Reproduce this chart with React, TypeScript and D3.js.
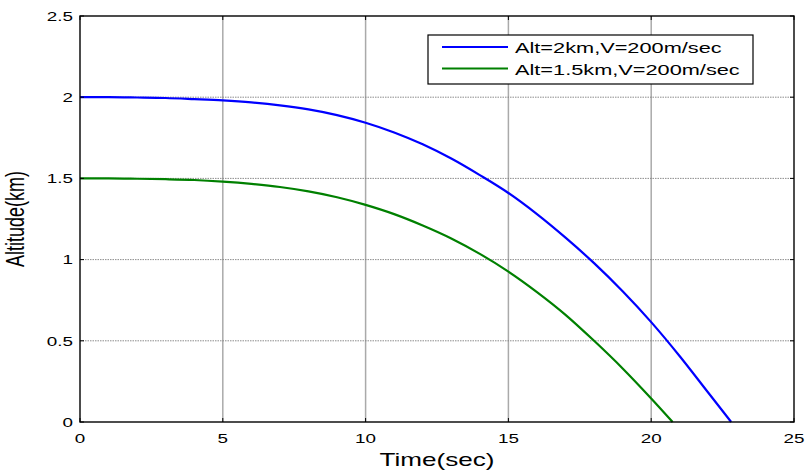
import React from 'react'
import * as d3 from 'd3'

// time axis (sec) and altitude (km)
const blueTime = [0, 1, 2, 3, 4, 5, 6, 7, 8, 9, 10, 11, 12, 13, 14, 15, 16, 17, 18, 19, 20, 21, 22, 22.8]
const blueAlt = [2.0, 2.0, 1.998, 1.995, 1.988, 1.98, 1.968, 1.95, 1.925, 1.89, 1.843, 1.783, 1.71, 1.622, 1.52, 1.41, 1.28, 1.135, 0.978, 0.805, 0.615, 0.405, 0.18, 0.0]

const greenTime = [0, 1, 2, 3, 4, 5, 6, 7, 8, 9, 10, 11, 12, 13, 14, 15, 16, 17, 18, 19, 20, 20.75]
const greenAlt = [1.5, 1.5, 1.498, 1.495, 1.49, 1.48, 1.466, 1.447, 1.42, 1.384, 1.337, 1.28, 1.21, 1.13, 1.035, 0.926, 0.8, 0.66, 0.5, 0.33, 0.145, 0.0]

const seriesNames = ['Alt=2km,V=200m/sec', 'Alt=1.5km,V=200m/sec']
const seriesColors = ['#0000ff', '#008000']

const xTickLabels = ['0', '5', '10', '15', '20', '25']
const yTickLabels = ['0', '0.5', '1', '1.5', '2', '2.5']

export default function App() {
    const width = 805
    const height = 471
    const left = 80, right = 794, top = 16, bottom = 422
    const sx = 1.45 // the picture is stretched sideways
    const font = "Arial, 'Liberation Sans', sans-serif"

    const x = d3.scaleLinear().domain([0, 25]).range([left, right])
    const y = d3.scaleLinear().domain([0, 2.5]).range([bottom, top])

    const line = d3.line<[number, number]>()
        .x(d => x(d[0]))
        .y(d => y(d[1]))
        .curve(d3.curveMonotoneX)

    const blue = blueTime.map((t, i) => [t, blueAlt[i]] as [number, number])
    const green = greenTime.map((t, i) => [t, greenAlt[i]] as [number, number])

    const xTicks = xTickLabels.map(Number)
    const yTicks = yTickLabels.map(Number)

    return (
        <svg width={width} height={height}
            style={{position: 'absolute', left: 0, top: 0, background: '#fff'}}>
            {/* grid */}
            {xTicks.slice(1, -1).map(t => (
                <line key={'gx' + t} x1={x(t)} x2={x(t)} y1={top} y2={bottom}
                    stroke="#aaaaaa" strokeWidth={1.5} />
            ))}
            {yTicks.slice(1, -1).map(t => (
                <line key={'gy' + t} x1={left} x2={right} y1={y(t)} y2={y(t)}
                    stroke="#808080" strokeWidth={0.9} strokeDasharray="1.5,1" />
            ))}

            {/* curves */}
            <path d={line(blue) || ''} fill="none" stroke={seriesColors[0]} strokeWidth={2.2} />
            <path d={line(green) || ''} fill="none" stroke={seriesColors[1]} strokeWidth={2.2} />

            {/* inward ticks */}
            {xTicks.map(t => (
                <g key={'tx' + t}>
                    <line x1={x(t)} x2={x(t)} y1={bottom} y2={bottom - 4} stroke="#000" />
                    <line x1={x(t)} x2={x(t)} y1={top} y2={top + 4} stroke="#000" />
                </g>
            ))}
            {yTicks.map(t => (
                <g key={'ty' + t}>
                    <line x1={left} x2={left + 4} y1={y(t)} y2={y(t)} stroke="#000" />
                    <line x1={right} x2={right - 4} y1={y(t)} y2={y(t)} stroke="#000" />
                </g>
            ))}

            {/* axes box */}
            <rect x={left} y={top} width={right - left} height={bottom - top}
                fill="none" stroke="#000" strokeWidth={1.4} />

            {/* tick labels */}
            {xTickLabels.map((s, i) => (
                <text key={'lx' + s} transform={`translate(${x(xTicks[i])},${bottom + 21}) scale(${sx},1)`}
                    textAnchor="middle" fontFamily={font} fontSize={13} fill="#000">{s}</text>
            ))}
            {yTickLabels.map((s, i) => (
                <text key={'ly' + s} transform={`translate(${left - 7},${y(yTicks[i]) + 4.7}) scale(${sx},1)`}
                    textAnchor="end" fontFamily={font} fontSize={13} fill="#000">{s}</text>
            ))}

            {/* axis titles */}
            <text transform={`translate(${(left + right) / 2},466) scale(${sx},1)`}
                textAnchor="middle" fontFamily={font} fontSize={18} fill="#000">Time(sec)</text>
            <text transform={`translate(24,${(top + bottom) / 2}) scale(${sx},1) rotate(-90)`}
                textAnchor="middle" fontFamily={font} fontSize={18} fill="#000">Altitude(km)</text>

            {/* legend */}
            <rect x={428} y={35} width={325} height={49} fill="#fff" stroke="#000" strokeWidth={1.2} />
            {seriesNames.map((name, i) => (
                <g key={name}>
                    <line x1={442} x2={508} y1={47 + i * 21.5} y2={47 + i * 21.5}
                        stroke={seriesColors[i]} strokeWidth={2.2} />
                    <text transform={`translate(515,${53 + i * 21.5}) scale(${sx},1)`}
                        fontFamily={font} fontSize={15} fill="#000">{name}</text>
                </g>
            ))}
        </svg>
    )
}
